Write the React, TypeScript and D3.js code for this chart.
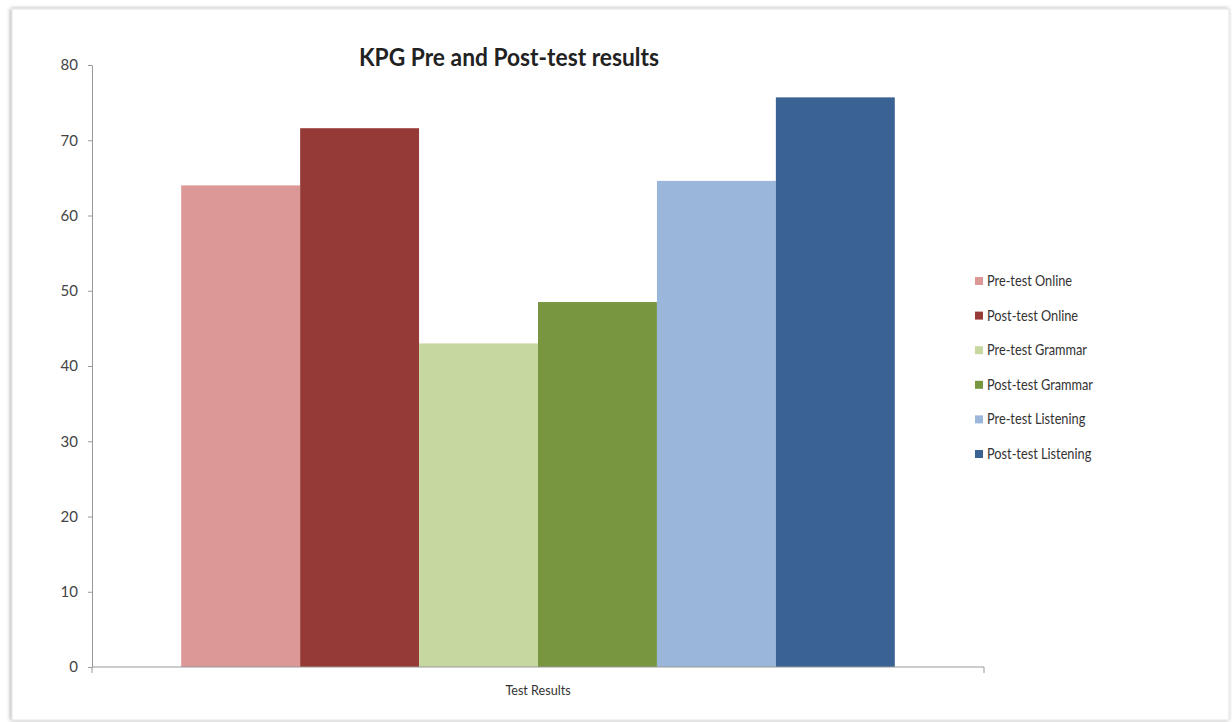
import React, { useEffect, useRef } from "react";
import * as d3 from "d3";

const categories = ["Test Results"];
const seriesNames = [
  "Pre-test Online",
  "Post-test Online",
  "Pre-test Grammar",
  "Post-test Grammar",
  "Pre-test Listening",
  "Post-test Listening",
];
const seriesValues = [64, 71.6, 43, 48.5, 64.6, 75.7];
const seriesColors = ["#DC9896", "#963A38", "#C6D8A0", "#789640", "#9AB6DA", "#3A6394"];
const yTicks = [0, 10, 20, 30, 40, 50, 60, 70, 80];
const title = "KPG Pre and Post-test results";

const W = 1232;
const H = 722;
const FONT = "Lato, 'Open Sans', sans-serif";

export default function App() {
  const ref = useRef<SVGSVGElement>(null);

  useEffect(() => {
    const svg = d3.select(ref.current);
    svg.selectAll("*").remove();

    const defs = svg.append("defs");
    const f = defs.append("filter").attr("id", "sh").attr("x", "-5%").attr("y", "-5%").attr("width", "110%").attr("height", "110%");
    f.append("feGaussianBlur").attr("in", "SourceAlpha").attr("stdDeviation", 2);
    f.append("feOffset").attr("dx", -1).attr("dy", 0).attr("result", "b");
    f.append("feComponentTransfer").append("feFuncA").attr("type", "linear").attr("slope", 0.35);
    const m = f.append("feMerge");
    m.append("feMergeNode");
    m.append("feMergeNode").attr("in", "SourceGraphic");

    svg.append("rect").attr("width", W).attr("height", H).attr("fill", "#fff");
    svg
      .append("rect")
      .attr("x", 12)
      .attr("y", 9)
      .attr("width", 1217)
      .attr("height", 711)
      .attr("fill", "#fff")
      .attr("stroke", "#e4e4e4")
      .attr("stroke-width", 1)
      .attr("filter", "url(#sh)");

    const left = 92, right = 984, top = 65, bottom = 667;

    const y = d3.scaleLinear().domain([0, 80]).range([bottom, top]);
    const x0 = d3.scaleBand().domain(categories).range([left, right]).paddingInner(0).paddingOuter(0.125);
    const x1 = d3
      .scaleBand()
      .domain(seriesNames)
      .range([0, x0.bandwidth()])
      .paddingInner(0)
      .paddingOuter(0);

    // bars
    const g = svg.append("g");
    categories.forEach((c) => {
      seriesNames.forEach((s, i) => {
        g.append("rect")
          .attr("x", (x0(c) as number) + (x1(s) as number))
          .attr("y", y(seriesValues[i]))
          .attr("width", x1.bandwidth())
          .attr("height", bottom - y(seriesValues[i]))
          .attr("fill", seriesColors[i]);
      });
    });

    // y axis
    const yAxis = d3.axisLeft(y).tickValues(yTicks).tickSize(4).tickPadding(10).tickSizeOuter(0);
    const ya = svg.append("g").attr("transform", `translate(${left},0)`).call(yAxis);
    ya.select(".domain").attr("stroke", "#999");
    ya.selectAll(".tick line").attr("stroke", "#999");
    ya.selectAll(".tick text")
      .attr("fill", "#444")
      .attr("font-family", FONT)
      .attr("font-size", 15);

    // x axis
    svg.append("line").attr("x1", left).attr("x2", right).attr("y1", bottom).attr("y2", bottom).attr("stroke", "#999");
    svg.append("line").attr("x1", left).attr("x2", left).attr("y1", bottom).attr("y2", bottom + 6).attr("stroke", "#999");
    svg.append("line").attr("x1", right).attr("x2", right).attr("y1", bottom).attr("y2", bottom + 6).attr("stroke", "#999");

    categories.forEach((c) => {
      svg
        .append("text")
        .attr("transform", `translate(${(x0(c) as number) + x0.bandwidth() / 2},695) scale(0.9,1)`)
        .attr("text-anchor", "middle")
        .attr("font-family", FONT)
        .attr("font-size", 14)
        .attr("fill", "#333")
        .text(c);
    });

    // title
    svg
      .append("text")
      .attr("transform", "translate(509,66) scale(0.95,1)")
      .attr("text-anchor", "middle")
      .attr("font-family", FONT)
      .attr("font-weight", "bold")
      .attr("font-size", 24)
      .attr("fill", "#222")
      .text(title);

    // legend
    const lg = svg.append("g");
    seriesNames.forEach((s, i) => {
      const cy = 281 + i * 34.6;
      lg.append("rect").attr("x", 975).attr("y", cy - 4).attr("width", 8).attr("height", 8).attr("fill", seriesColors[i]);
      lg.append("text")
        .attr("transform", `translate(987,${cy + 5}) scale(0.88,1)`)
        .attr("font-family", FONT)
        .attr("font-size", 14.5)
        .attr("fill", "#333")
        .text(s);
    });
  }, []);

  return (
    <svg
      ref={ref}
      width={W}
      height={H}
      style={{ position: "absolute", left: 0, top: 0, display: "block" }}
    />
  );
}
